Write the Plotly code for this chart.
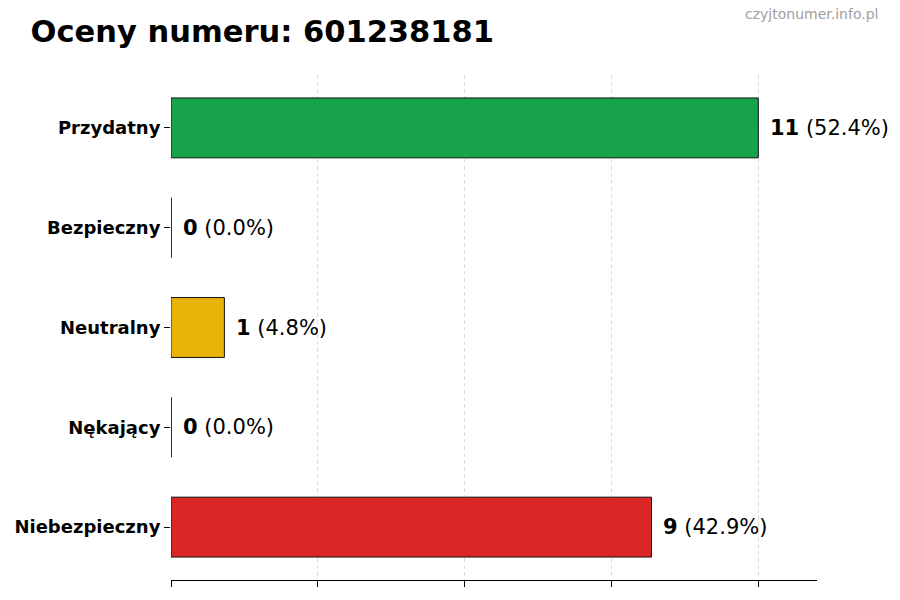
import plotly.graph_objects as go

# data
categories = ['Przydatny', 'Bezpieczny', 'Neutralny', 'Nękający', 'Niebezpieczny']
counts = [11, 0, 1, 0, 9]
colors = ['#16a34a', '#3b82f6', '#eab308', '#f97316', '#dc2626']
phone = '601238181'

total = sum(counts)
xmax = max(counts) * 1.1
tickvals = [max(counts) * i / 4 for i in range(5)]

fig = go.Figure()

fig.add_trace(go.Bar(
    x=counts, y=categories, orientation='h', width=0.6,
    marker=dict(color=colors, line=dict(color='#111111', width=1)),
    hoverinfo='skip',
))

# matplotlib still draws the edge of empty bars - mimic it
for cat, v in zip(categories, counts):
    if v == 0:
        idx = categories.index(cat)
        fig.add_trace(go.Scatter(
            x=[0, 0], y=[idx - 0.3, idx + 0.3], mode='lines',
            line=dict(color='#111111', width=1), yaxis='y2',
            hoverinfo='skip', showlegend=False,
        ))

for cat, v in zip(categories, counts):
    pct = v / total * 100
    fig.add_annotation(
        x=v + max(counts) * 0.017, y=cat, xanchor='left', yanchor='middle',
        text=f'<b>{v}</b> ({pct:.1f}%)', showarrow=False,
        font=dict(size=21, color='black'),
    )

fig.update_layout(
    width=900, height=600,
    margin=dict(l=171, r=83, t=75, b=20),
    plot_bgcolor='white', paper_bgcolor='white',
    font=dict(family='DejaVu Sans', color='black'),
    showlegend=False,
    title=dict(text='<b>Oceny numeru: ' + phone + '</b>', x=0.034, xanchor='left',
               y=0.948, yanchor='middle', font=dict(size=30.5)),
    xaxis=dict(range=[0, xmax], tickvals=tickvals, showticklabels=False,
               ticks='outside', ticklen=6, tickcolor='black',
               showline=True, linecolor='black', linewidth=1,
               showgrid=True, gridcolor='#dcdcdc', griddash='4px,3px', gridwidth=1,
               zeroline=False),
    yaxis=dict(autorange=False, range=[len(categories) - 0.47, -0.53],
               categoryorder='array', categoryarray=categories,
               ticks='outside', ticklen=6, tickcolor='black',
               tickfont=dict(size=18, family='DejaVu Sans'),
               tickprefix='<b>', ticksuffix='</b>',
               ticklabelstandoff=0,
               showline=False, showgrid=False, zeroline=False),
    yaxis2=dict(overlaying='y', range=[len(categories) - 0.47, -0.53],
                visible=False),
)

fig.add_annotation(
    text='czyjtonumer.info.pl', xref='paper', yref='paper',
    x=1.097, y=1.12, xanchor='right', yanchor='middle', showarrow=False,
    font=dict(size=14, color='#a0a0a0'),
)

# no default 8px page margin round the figure
fig.write_html('out.html', config={'displayModeBar': False},
               post_script="document.body.style.margin='0';")
